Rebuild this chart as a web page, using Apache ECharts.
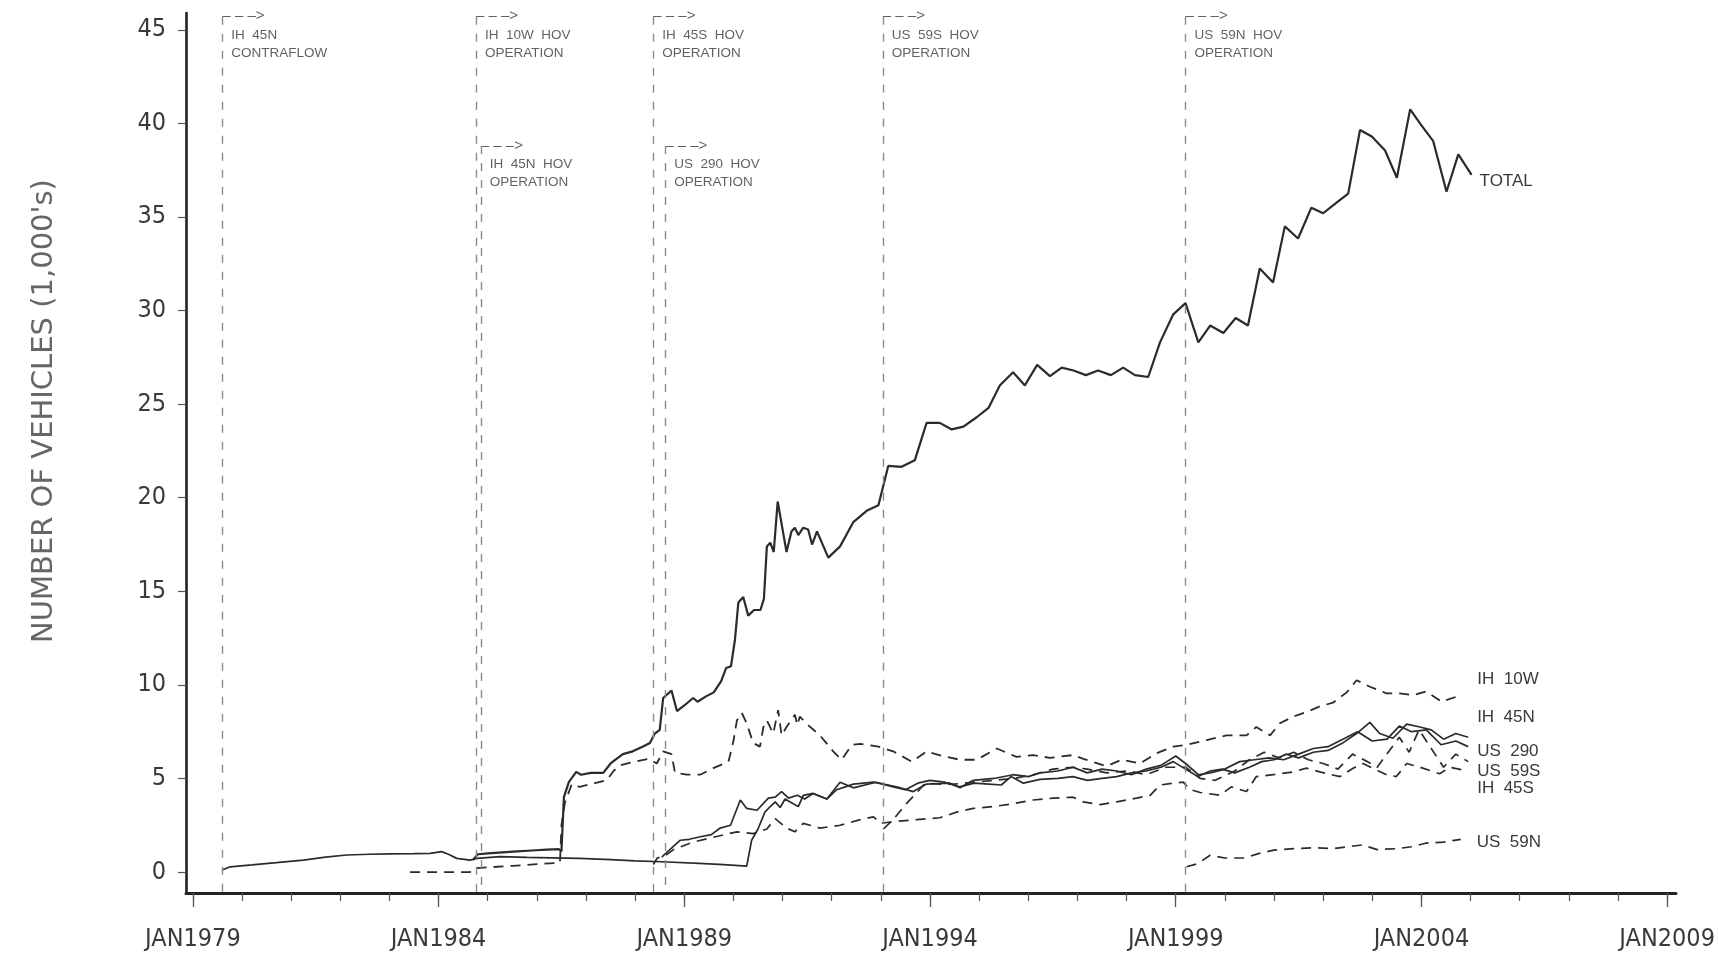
<!DOCTYPE html>
<html>
<head>
<meta charset="utf-8">
<title>HOV Lane Vehicle Volumes</title>
<script src="https://cdn.jsdelivr.net/npm/echarts@6/dist/echarts.min.js"></script>
<style>
  html, body { margin: 0; padding: 0; background: #ffffff; }
  #chart { width: 1718px; height: 959px; }
</style>
</head>
<body>
<div id="chart"></div>
<script>
// Tick values and labels
const yearTicks = [1979,1980,1981,1982,1983,1984,1985,1986,1987,1988,1989,1990,1991,1992,1993,1994,1995,1996,1997,1998,1999,2000,2001,2002,2003,2004,2005,2006,2007,2008,2009];
const yearLabelTicks = [1979, 1984, 1989, 1994, 1999, 2004, 2009];
const valueTicks = [0, 5, 10, 15, 20, 25, 30, 35, 40, 45];

// Vehicles (1,000's) by date (decimal year)
const totalVehicles = [
  [1984.70,0.64],[1984.80,0.95],[1985.0,1.0],[1985.3,1.05],[1985.6,1.1],[1985.9,1.15],[1986.2,1.2],[1986.45,1.22],[1986.5,1.1],
  [1986.55,4.0],[1986.65,4.8],[1986.8,5.35],[1986.9,5.2],[1987.1,5.3],[1987.35,5.3],[1987.5,5.8],[1987.6,6.0],[1987.75,6.3],
  [1987.95,6.45],[1988.15,6.7],[1988.3,6.9],[1988.4,7.4],[1988.5,7.6],[1988.57,9.3],[1988.74,9.7],[1988.85,8.6],[1989.0,8.9],
  [1989.18,9.3],[1989.27,9.1],[1989.45,9.4],[1989.6,9.6],[1989.75,10.2],[1989.85,10.9],[1989.95,11.0],[1990.03,12.4],[1990.1,14.4],
  [1990.2,14.7],[1990.3,13.7],[1990.42,14.0],[1990.55,14.0],[1990.62,14.6],[1990.68,17.4],[1990.75,17.6],[1990.82,17.1],[1990.9,19.8],
  [1990.98,18.6],[1991.08,17.1],[1991.18,18.2],[1991.25,18.4],[1991.32,18.0],[1991.42,18.4],[1991.52,18.3],[1991.6,17.5],[1991.7,18.2],
  [1991.93,16.8],[1992.17,17.4],[1992.44,18.7],[1992.71,19.3],[1992.95,19.6],[1993.15,21.7],[1993.42,21.65],[1993.69,22.0],[1993.93,24.0],
  [1994.2,24.0],[1994.44,23.65],[1994.68,23.8],[1994.95,24.3],[1995.19,24.8],[1995.42,26.0],[1995.69,26.7],[1995.93,26.0],[1996.18,27.1],
  [1996.44,26.5],[1996.68,26.95],[1996.92,26.8],[1997.17,26.55],[1997.42,26.8],[1997.68,26.55],[1997.93,26.95],[1998.17,26.55],[1998.44,26.45],
  [1998.68,28.3],[1998.95,29.8],[1999.2,30.4],[1999.46,28.3],[1999.7,29.2],[1999.97,28.8],[2000.22,29.6],[2000.47,29.2],[2000.71,32.25],
  [2000.98,31.5],[2001.22,34.5],[2001.49,33.85],[2001.76,35.5],[2002.0,35.2],[2002.24,35.7],[2002.51,36.25],[2002.75,39.65],[2002.99,39.3],
  [2003.26,38.55],[2003.5,37.1],[2003.77,40.75],[2004.0,39.9],[2004.24,39.05],[2004.51,36.35],[2004.75,38.35],[2005.02,37.25]
];

const ih10w = [
  [1983.42,0.0],[1984.0,0.0],[1984.64,0.0],[1984.72,0.2],[1985.0,0.25],[1985.5,0.33],[1986.0,0.42],[1986.47,0.5],[1986.5,2.5],
  [1986.57,3.7],[1986.71,4.7],[1986.87,4.55],[1987.1,4.7],[1987.42,4.9],[1987.56,5.4],[1987.69,5.7],[1988.0,5.9],[1988.27,6.05],
  [1988.44,5.8],[1988.57,6.45],[1988.74,6.3],[1988.81,5.3],[1989.05,5.2],[1989.32,5.2],[1989.59,5.55],[1989.9,5.9],[1990.0,7.0],
  [1990.07,8.1],[1990.17,8.5],[1990.27,7.95],[1990.4,6.9],[1990.54,6.7],[1990.61,7.75],[1990.68,8.1],[1990.81,7.4],[1990.91,8.65],
  [1990.98,7.3],[1991.08,7.75],[1991.25,8.4],[1991.3,7.85],[1991.35,8.3],[1991.52,7.85],[1991.76,7.3],[1992.03,6.45],[1992.2,6.0],
  [1992.41,6.8],[1992.58,6.85],[1992.95,6.7],[1993.25,6.45],[1993.63,5.9],[1993.93,6.45],[1994.25,6.2],[1994.61,6.0],[1994.95,6.0],
  [1995.36,6.6],[1995.76,6.15],[1996.1,6.25],[1996.44,6.1],[1996.91,6.25],[1997.12,6.05],[1997.59,5.65],[1997.9,6.0],[1998.27,5.8],
  [1998.61,6.35],[1998.95,6.7],[1999.22,6.8],[1999.63,7.05],[2000.03,7.3],[2000.44,7.3],[2000.64,7.75],[2000.92,7.3],[2001.12,7.95],
  [2001.39,8.3],[2001.66,8.55],[2001.93,8.85],[2002.2,9.05],[2002.48,9.6],[2002.68,10.25],[2002.95,9.9],[2003.29,9.55],[2003.56,9.55],
  [2003.83,9.45],[2004.1,9.65],[2004.41,9.1],[2004.75,9.4]
];

const ih45n = [
  [1979.59,0.11],[1979.76,0.28],[1980.2,0.38],[1980.7,0.5],[1981.25,0.64],[1981.7,0.8],[1982.13,0.91],[1982.6,0.95],[1983.0,0.97],
  [1983.5,0.98],[1983.83,1.0],[1984.06,1.09],[1984.2,0.95],[1984.37,0.73],[1984.64,0.64],[1984.78,0.73],[1985.25,0.82],[1985.8,0.78],
  [1986.3,0.76],[1986.87,0.73],[1987.5,0.66],[1988.0,0.6],[1988.54,0.55],[1989.3,0.46],[1989.8,0.4],[1990.27,0.32],[1990.37,1.7],
  [1990.5,2.3],[1990.64,3.2],[1990.75,3.5],[1990.85,3.75],[1990.95,3.45],[1991.05,3.9],[1991.18,3.7],[1991.32,3.5],[1991.42,4.1],
  [1991.62,4.2],[1991.9,3.9],[1992.17,4.8],[1992.44,4.5],[1992.9,4.8],[1993.25,4.55],[1993.5,4.4],[1993.75,4.75],[1994.0,4.9],
  [1994.3,4.8],[1994.6,4.55],[1994.9,4.75],[1995.2,4.7],[1995.45,4.65],[1995.65,5.1],[1995.9,4.75],[1996.24,4.95],[1996.6,5.0],
  [1996.91,5.1],[1997.2,4.9],[1997.5,5.0],[1997.8,5.1],[1998.1,5.3],[1998.4,5.4],[1998.7,5.6],[1998.95,5.9],[1999.2,5.5],
  [1999.45,5.1],[1999.7,5.4],[1999.95,5.5],[2000.2,5.3],[2000.5,5.6],[2000.75,5.9],[2001.0,6.0],[2001.25,6.3],[2001.5,6.1],
  [2001.8,6.4],[2002.1,6.5],[2002.4,6.9],[2002.68,7.4],[2002.95,8.0],[2003.15,7.4],[2003.42,7.15],[2003.7,7.9],[2003.97,7.75],
  [2004.2,7.6],[2004.45,7.1],[2004.7,7.4],[2004.95,7.2]
];

const us290 = [
  [1988.54,0.8],[1988.75,1.3],[1988.92,1.7],[1989.1,1.75],[1989.35,1.9],[1989.55,2.0],[1989.73,2.35],[1989.94,2.5],[1990.14,3.85],
  [1990.27,3.4],[1990.48,3.3],[1990.71,3.95],[1990.85,4.0],[1990.98,4.3],[1991.12,3.95],[1991.3,4.1],[1991.45,3.9],[1991.62,4.2],
  [1991.9,3.9],[1992.1,4.4],[1992.44,4.7],[1992.85,4.8],[1993.32,4.55],[1993.66,4.3],[1993.93,4.7],[1994.4,4.75],[1994.61,4.5],
  [1994.88,4.9],[1995.3,5.0],[1995.69,5.2],[1996.0,5.1],[1996.24,5.3],[1996.6,5.4],[1996.91,5.6],[1997.2,5.3],[1997.5,5.5],
  [1997.8,5.4],[1998.1,5.2],[1998.4,5.5],[1998.7,5.7],[1999.0,6.2],[1999.2,5.8],[1999.46,5.2],[1999.7,5.3],[2000.0,5.5],
  [2000.3,5.9],[2000.6,6.0],[2000.9,6.1],[2001.2,6.0],[2001.5,6.3],[2001.8,6.6],[2002.1,6.7],[2002.4,7.1],[2002.7,7.5],
  [2003.0,7.0],[2003.3,7.1],[2003.55,7.8],[2003.8,7.5],[2004.1,7.6],[2004.4,6.8],[2004.7,7.0],[2004.95,6.7]
];

const us59s = [
  [1993.05,2.3],[1993.25,2.8],[1993.5,3.6],[1993.75,4.3],[1993.9,4.75],[1994.2,4.7],[1994.5,4.7],[1994.9,4.8],[1995.3,4.9],
  [1995.7,5.0],[1996.1,5.2],[1996.5,5.5],[1996.9,5.6],[1997.2,5.5],[1997.6,5.3],[1998.0,5.4],[1998.4,5.2],[1998.8,5.6],
  [1999.2,5.6],[1999.5,5.0],[1999.8,4.9],[2000.2,5.4],[2000.5,6.0],[2000.8,6.4],[2001.1,6.1],[2001.4,6.4],[2001.7,6.0],
  [2002.0,5.8],[2002.3,5.5],[2002.6,6.3],[2002.9,5.9],[2003.1,5.6],[2003.35,6.5],[2003.55,7.2],[2003.75,6.4],[2003.95,7.6],
  [2004.2,6.6],[2004.45,5.6],[2004.7,6.3],[2004.95,5.9]
];

const ih45s = [
  [1988.37,0.4],[1988.45,0.75],[1988.6,0.85],[1988.78,1.2],[1989.18,1.6],[1989.66,1.9],[1990.07,2.15],[1990.4,2.05],[1990.68,2.3],
  [1990.85,2.85],[1991.08,2.35],[1991.25,2.15],[1991.42,2.6],[1991.76,2.35],[1992.17,2.5],[1992.58,2.8],[1992.85,2.95],[1993.0,2.6],
  [1993.25,2.7],[1993.73,2.8],[1994.2,2.9],[1994.54,3.2],[1994.88,3.4],[1995.29,3.5],[1995.69,3.65],[1996.1,3.85],[1996.51,3.95],
  [1996.91,4.0],[1997.12,3.75],[1997.46,3.6],[1997.8,3.75],[1998.2,3.95],[1998.48,4.1],[1998.68,4.65],[1998.95,4.75],[1999.15,4.8],
  [1999.3,4.4],[1999.5,4.25],[1999.9,4.1],[2000.13,4.55],[2000.44,4.3],[2000.64,5.1],[2000.98,5.2],[2001.39,5.35],[2001.66,5.55],
  [2001.93,5.35],[2002.34,5.1],[2002.61,5.55],[2002.81,5.8],[2003.05,5.5],[2003.29,5.2],[2003.49,5.1],[2003.7,5.8],[2003.97,5.6],
  [2004.37,5.25],[2004.58,5.6],[2004.85,5.45]
];

const us59n = [
  [1999.22,0.28],[1999.45,0.45],[1999.7,0.9],[2000.0,0.75],[2000.4,0.75],[2000.7,1.0],[2001.0,1.17],[2001.4,1.25],[2001.8,1.3],
  [2002.2,1.25],[2002.5,1.35],[2002.8,1.45],[2003.1,1.2],[2003.5,1.25],[2003.8,1.35],[2004.1,1.55],[2004.45,1.6],[2004.8,1.75]
];

// Facility openings (decimal year), annotation row 0 = top, 1 = lower
const eventDates = [1979.60, 1984.76, 1984.86, 1988.37, 1988.61, 1993.04, 1999.20];
const eventNames = ['IH  45N', 'IH  10W  HOV', 'IH  45N  HOV', 'IH  45S  HOV', 'US  290  HOV', 'US  59S  HOV', 'US  59N  HOV'];
const eventKinds = ['CONTRAFLOW', 'OPERATION', 'OPERATION', 'OPERATION', 'OPERATION', 'OPERATION', 'OPERATION'];
const eventRows  = [0, 0, 1, 0, 1, 0, 0];

// ---- layout / style ----
const X_MIN = 1978.86, X_MAX = 2009.18;
const Y_MIN = -1.12, Y_MAX = 45.9;
const ROW_TOP = [45.7, 38.8];
const INK = '#2b2b2b';
const TEXT = '#3a3a3a';
const NARROW = '"Liberation Sans Narrow", "Arial Narrow", "DejaVu Sans Condensed", "Liberation Sans", sans-serif';
const SANS = '"Liberation Sans", Arial, sans-serif';

const lineDefs = [
  { name: 'TOTAL',  data: totalVehicles, dashed: false, width: 2.2, off: [8, 6] },
  { name: 'IH  10W', data: ih10w,        dashed: true,  width: 1.8, off: [19, -17] },
  { name: 'IH  45N', data: ih45n,        dashed: false, width: 1.7, off: [9, -20] },
  { name: 'US  290', data: us290,        dashed: false, width: 1.7, off: [9, 5] },
  { name: 'US  59S', data: us59s,        dashed: true,  width: 1.7, off: [9, 10] },
  { name: 'IH  45S', data: ih45s,        dashed: true,  width: 1.7, off: [14, 18] },
  { name: 'US  59N', data: us59n,        dashed: true,  width: 1.7, off: [16, 3] }
];

const lineSeries = lineDefs.map(d => ({
  name: d.name,
  type: 'line',
  data: d.data,
  showSymbol: false,
  symbol: 'none',
  smooth: false,
  z: 3,
  lineStyle: { color: INK, width: d.width, type: d.dashed ? [10, 7] : 'solid' },
  endLabel: {
    show: true,
    formatter: d.name,
    distance: 0,
    offset: d.off,
    color: TEXT,
    fontFamily: SANS,
    fontSize: 17
  }
}));

const eventData = eventDates.map((x, i) => ({
  value: [x, ROW_TOP[eventRows[i]]],
  label: {
    formatter: '{a|– – –>}\n{t|' + eventNames[i] + '}\n{t|' + eventKinds[i] + '}'
  }
}));

const eventLines = eventDates.map((x, i) => [
  { coord: [x, ROW_TOP[eventRows[i]]] },
  { coord: [x, Y_MIN] }
]);

const eventSeries = {
  name: 'events',
  type: 'scatter',
  data: eventData,
  symbolSize: 0,
  silent: true,
  z: 2,
  label: {
    show: true,
    position: [0, -10],
    rich: {
      a: { fontFamily: SANS, fontSize: 15, lineHeight: 19, color: TEXT, padding: [0, 0, 0, 0] },
      t: { fontFamily: SANS, fontSize: 13.5, lineHeight: 18.5, color: TEXT, padding: [0, 0, 0, 9] }
    }
  },
  markLine: {
    silent: true,
    symbol: ['none', 'none'],
    label: { show: false },
    lineStyle: { color: '#8c8c8c', width: 1.4, type: [8, 9] },
    data: eventLines
  }
};

const chart = echarts.init(document.getElementById('chart'), null, { renderer: 'canvas' });

chart.setOption({
  animation: false,
  backgroundColor: '#ffffff',
  grid: { left: 186, right: 42, top: 13, bottom: 66, containLabel: false },
  xAxis: [
    {
      type: 'value', min: X_MIN, max: X_MAX, position: 'bottom',
      axisLine: { show: true, onZero: false, lineStyle: { color: '#222', width: 3 } },
      axisTick: { show: true, customValues: yearTicks, length: 8, inside: false, lineStyle: { color: '#555', width: 1.2 } },
      axisLabel: {
        show: true, customValues: yearLabelTicks, margin: 34,
        formatter: v => 'JAN' + v,
        color: TEXT, fontFamily: NARROW, fontSize: 25
      },
      splitLine: { show: false }
    },
    {
      type: 'value', min: X_MIN, max: X_MAX, position: 'bottom', offset: 0,
      axisLine: { show: false, onZero: false },
      axisTick: { show: true, customValues: yearLabelTicks, length: 14, lineStyle: { color: '#555', width: 1.3 } },
      axisLabel: { show: false },
      splitLine: { show: false }
    }
  ],
  yAxis: {
    type: 'value', min: Y_MIN, max: Y_MAX,
    axisLine: { show: true, onZero: false, lineStyle: { color: '#222', width: 2.6 } },
    axisTick: { show: true, customValues: valueTicks, length: 8, lineStyle: { color: '#555', width: 1.2 } },
    axisLabel: {
      show: true, customValues: valueTicks, margin: 20,
      color: TEXT, fontFamily: NARROW, fontSize: 25
    },
    splitLine: { show: false }
  },
  graphic: [
    {
      type: 'text',
      x: 44, y: 411,
      rotation: Math.PI / 2,
      style: {
        text: "NUMBER OF VEHICLES (1,000's)",
        fill: '#666666',
        font: 'normal 29px "DejaVu Sans", sans-serif',
        align: 'center',
        verticalAlign: 'middle'
      }
    }
  ],
  series: [eventSeries].concat(lineSeries)
});
</script>
</body>
</html>
